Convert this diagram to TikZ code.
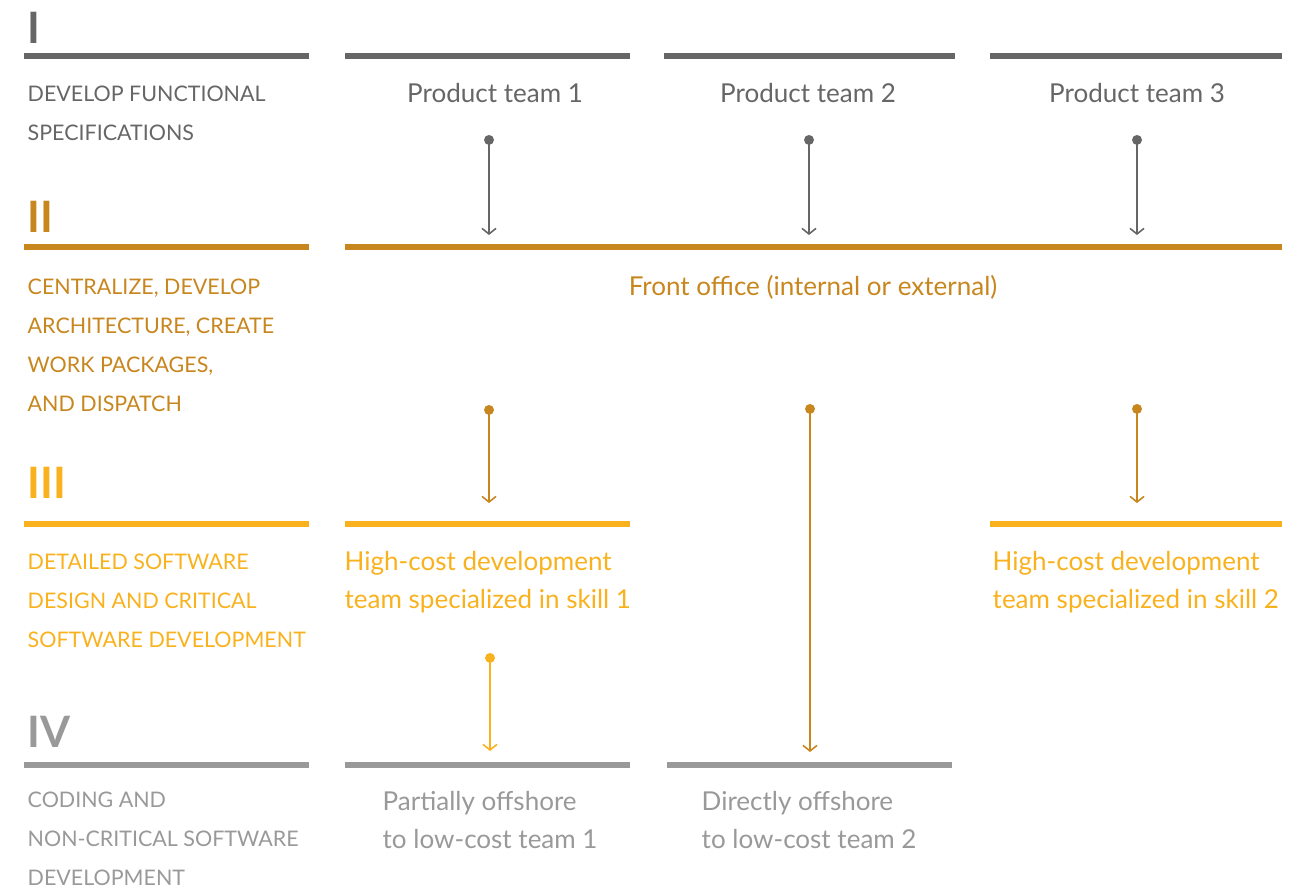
\documentclass[tikz,border=0pt]{standalone}
\usepackage{fontspec}
\setmainfont{Lato}
\usepackage{tikz}
\usetikzlibrary{arrows.meta,positioning}

\definecolor{lvlone}{HTML}{666666}
\definecolor{lvltwo}{HTML}{C8861E}
\definecolor{lvlthree}{HTML}{F9B21E}
\definecolor{lvlfour}{HTML}{999999}

\tikzset{
  numeral/.style={anchor=base west, inner sep=0pt, font=\fontsize{12.3}{14}\selectfont\bfseries},
  levelline/.style={line width=1.6pt},
  sidetext/.style={anchor=base west, align=left, inner sep=0pt, font=\fontsize{6.1}{11}\selectfont},
  teamtext/.style={inner sep=0pt, align=left, font=\fontsize{7.4}{10.6}\selectfont},
  flow/.style={line width=0.45pt, {Circle[length=2.8pt]}-{Straight Barb[length=1.6pt,width=4pt]}}
}

\begin{document}
\begin{tikzpicture}[x=0.01cm, y=-0.01cm]
    \useasboundingbox (0,0) rectangle (1315,890);

    % Level I
    \node[numeral, lvlone] (numI) at (27,43) {I};
    \draw[levelline, lvlone] (24,56) -- (309,56);
    \foreach \a/\b in {345/630,664/955,990/1282} \draw[levelline, lvlone] (\a,56) -- (\b,56);
    \node[sidetext, lvlone] (sideI) at (27,140) {DEVELOP FUNCTIONAL\\SPECIFICATIONS};
    \node[teamtext, lvlone, anchor=base] (team1) at (495,102) {Product team 1};
    \node[teamtext, lvlone, anchor=base] (team2) at (808,102) {Product team 2};
    \node[teamtext, lvlone, anchor=base] (team3) at (1137,102) {Product team 3};

    % Level II
    \node[numeral, lvltwo] (numII) at (27,232) {II};
    \draw[levelline, lvltwo] (24,247) -- (309,247);
    \draw[levelline, lvltwo] (345,247) -- (1282,247);
    \node[sidetext, lvltwo] (sideII) at (27,411) {CENTRALIZE, DEVELOP\\ARCHITECTURE, CREATE\\WORK PACKAGES,\\AND DISPATCH};
    \node[teamtext, lvltwo, anchor=base] (front) at (813,295) {Front office (internal or external)};

    % Level III
    \node[numeral, lvlthree] (numIII) at (27,498) {III};
    \draw[levelline, lvlthree] (24,524) -- (309,524);
    \foreach \a/\b in {345/630,990/1282} \draw[levelline, lvlthree] (\a,524) -- (\b,524);
    \node[sidetext, lvlthree] (sideIII) at (27,647) {DETAILED SOFTWARE\\DESIGN AND CRITICAL\\SOFTWARE DEVELOPMENT};
    \node[teamtext, lvlthree, anchor=base west] (skill1) at (344,608) {High-cost development\\team specialized in skill 1};
    \node[teamtext, lvlthree, anchor=base west] (skill2) at (992,608) {High-cost development\\team specialized in skill 2};

    % Level IV
    \node[numeral, lvlfour] (numIV) at (27,747) {IV};
    \draw[levelline, lvlfour] (24,765) -- (309,765);
    \foreach \a/\b in {345/630,667/952} \draw[levelline, lvlfour] (\a,765) -- (\b,765);
    \node[sidetext, lvlfour] (sideIV) at (27,885) {CODING AND\\NON-CRITICAL SOFTWARE\\DEVELOPMENT};
    \node[teamtext, lvlfour, anchor=base west] (low1) at (382,848) {Partially offshore\\to low-cost team 1};
    \node[teamtext, lvlfour, anchor=base west] (low2) at (701,848) {Directly offshore\\to low-cost team 2};

    % Arrows
    \foreach \n/\x in {1/489,2/809,3/1137} {
      \coordinate (top\n) at (\x,135);
      \coordinate (mid\n) at (\x,235);
      \draw[flow, lvlone] (top\n) -- (mid\n);
    }
    \coordinate (fo1) at (489,405);
    \coordinate (fo2) at (810,404);
    \coordinate (fo3) at (1137,404);
    \coordinate (hc1) at (489,503);
    \coordinate (lc2) at (810,752);
    \coordinate (hc3) at (1137,503);
    \draw[flow, lvltwo] (fo1) -- (hc1);
    \draw[flow, lvltwo] (fo2) -- (lc2);
    \draw[flow, lvltwo] (fo3) -- (hc3);
    \coordinate (sk1) at (490,653);
    \coordinate (lc1) at (490,751);
    \draw[flow, lvlthree] (sk1) -- (lc1);
\end{tikzpicture}
\end{document}
